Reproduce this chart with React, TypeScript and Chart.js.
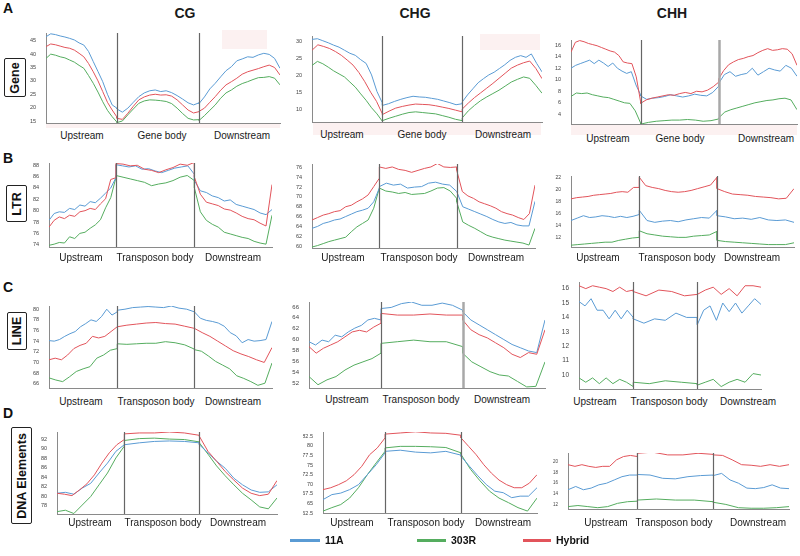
import React, { useEffect, useRef } from "react";
import { Chart, registerables } from "chart.js";
Chart.register(...registerables);

// ---------------- DATA ----------------
// each series: [upstream, body, downstream]
const geneCG_11A = [[46.5, 47.6, 47.3, 46.8, 46.4, 45.9, 45.3, 44.2, 43.4, 41.0, 37.2, 33.5, 29.7, 25.0, 21.0, 19.8], [19.5, 18.3, 19.8, 22.0, 24.1, 25.5, 26.3, 26.6, 26.0, 26.3, 25.6, 24.5, 23.2, 21.8, 21.0, 21.8], [21.5, 24.0, 27.0, 29.1, 31.5, 33.8, 35.3, 37.5, 38.2, 39.0, 38.8, 39.7, 40.3, 39.9, 38.4, 34.7]];
const geneCG_303R = [[38.4, 40.0, 39.6, 39.0, 38.6, 37.8, 37.0, 35.8, 34.7, 32.0, 29.1, 25.8, 22.2, 19.0, 16.6, 14.6], [14.4, 15.0, 17.3, 19.5, 21.6, 22.5, 22.9, 22.8, 22.6, 22.3, 21.5, 19.8, 17.8, 16.0, 15.4, 15.5], [15.2, 17.0, 19.0, 21.0, 23.5, 25.5, 26.6, 28.0, 29.0, 29.7, 30.5, 31.2, 31.3, 31.6, 31.0, 28.5]];
const geneCG_Hybrid = [[42.8, 43.8, 43.5, 43.0, 42.5, 42.2, 41.5, 40.3, 39.0, 36.5, 33.4, 30.0, 26.0, 22.0, 19.1, 16.5], [16.0, 15.6, 17.9, 20.5, 22.9, 24.0, 24.7, 25.0, 24.7, 24.8, 24.3, 22.9, 21.0, 19.1, 18.0, 18.5], [18.6, 19.8, 22.0, 24.1, 26.5, 28.5, 29.7, 31.0, 32.5, 33.4, 34.0, 34.6, 35.3, 35.9, 35.0, 32.2]];

const geneCHG_11A = [[30.6, 30.8, 30.2, 29.6, 28.9, 28.3, 27.4, 26.5, 25.9, 24.6, 23.5, 20.1, 15.2, 11.8], [11.1, 11.6, 12.3, 12.9, 13.4, 13.8, 13.6, 13.5, 13.2, 12.9, 12.4, 11.9, 11.3, 11.6], [12.1, 14.2, 16.0, 17.8, 19.0, 20.1, 20.9, 22.0, 23.1, 24.4, 25.3, 25.8, 25.3, 26.3, 23.5, 21.0]];
const geneCHG_303R = [[22.9, 24.1, 23.4, 22.4, 21.3, 20.4, 19.5, 18.0, 16.5, 14.5, 12.6, 10.4, 8.6, 6.4], [6.6, 7.3, 7.9, 8.5, 9.0, 9.2, 9.0, 8.8, 8.6, 8.1, 7.6, 7.0, 6.6], [7.4, 9.5, 11.1, 12.5, 13.6, 14.6, 15.6, 16.8, 18.0, 18.8, 19.5, 19.1, 17.0, 14.7]];
const geneCHG_Hybrid = [[27.4, 29.0, 28.5, 27.9, 27.0, 25.9, 24.5, 23.0, 20.8, 18.1, 15.0, 12.3, 8.6], [8.4, 9.4, 10.3, 10.8, 11.2, 11.5, 11.4, 11.3, 11.0, 10.6, 10.2, 9.7, 9.2], [10.0, 11.8, 13.4, 14.8, 16.2, 17.6, 19.1, 20.6, 22.1, 23.0, 23.7, 24.2, 22.0, 19.0]];

const geneCHH_11A = [[12.0, 12.5, 12.8, 13.1, 13.4, 12.8, 13.4, 12.9, 12.3, 12.9, 12.0, 11.5, 11.1, 11.4, 9.1, 7.4], [7.2, 6.6, 6.8, 6.9, 7.1, 7.4, 7.2, 7.0, 7.2, 7.5, 7.3, 7.2, 7.8, 8.9], [9.4, 10.9, 11.4, 10.6, 10.9, 11.1, 12.0, 10.8, 11.4, 12.0, 11.7, 11.5, 12.5, 12.0, 10.6]];
const geneCHH_303R = [[7.1, 7.7, 7.6, 7.7, 7.4, 7.2, 7.0, 6.9, 6.6, 6.3, 6.0, 5.9, 4.6, 2.5], [2.3, 2.6, 2.8, 2.9, 3.0, 3.0, 3.1, 3.0, 2.8, 2.9, 3.2], [3.4, 4.4, 4.8, 5.1, 5.4, 5.7, 6.0, 6.2, 6.4, 6.5, 6.7, 6.8, 6.5, 4.8]];
const geneCHH_Hybrid = [[14.8, 16.5, 16.8, 16.6, 16.3, 16.1, 15.9, 15.6, 15.3, 15.0, 14.8, 14.2, 13.1, 12.9, 12.8, 10.5, 6.2], [5.9, 6.5, 6.8, 7.0, 7.2, 7.4, 7.3, 7.6, 7.8, 7.6, 8.0, 7.9, 8.2, 8.8, 9.6], [10.2, 11.6, 12.6, 13.1, 13.5, 13.7, 14.0, 14.2, 14.7, 15.1, 15.4, 15.1, 15.2, 15.4, 15.3, 14.5, 12.5]];

const ltrCG_11A = [[78.3, 79.5, 79.8, 79.7, 80.4, 80.2, 81.0, 80.8, 81.6, 81.4, 82.2, 83.1, 84.0, 85.8], [88.1, 87.9, 87.7, 87.9, 87.3, 87.4, 87.0, 86.7, 87.1, 87.5, 87.7, 87.9, 86.4], [85.3, 83.5, 83.2, 82.6, 82.3, 81.7, 81.9, 81.1, 80.8, 80.5, 80.2, 79.6, 79.3, 80.2]];
const ltrCG_303R = [[73.9, 74.1, 74.4, 74.3, 75.4, 75.1, 76.0, 76.2, 76.9, 77.5, 78.4, 80.5, 82.3, 85.8], [86.2, 85.9, 85.6, 85.3, 85.0, 84.4, 84.7, 84.9, 85.3, 85.9, 86.2, 85.3], [84.0, 79.8, 78.3, 77.6, 77.1, 76.2, 75.9, 75.6, 75.3, 75.1, 74.6, 74.3, 74.1, 79.2]];
const ltrCG_Hybrid = [[77.1, 78.3, 78.9, 78.6, 79.2, 79.0, 79.8, 80.0, 80.4, 80.2, 81.2, 82.1, 85.5, 85.8], [88.3, 88.2, 87.9, 88.0, 87.3, 87.1, 86.7, 87.2, 87.6, 88.2, 88.0, 88.5], [85.9, 82.9, 81.5, 81.2, 80.9, 80.3, 80.1, 79.6, 79.0, 78.6, 78.4, 77.8, 77.3, 84.6]];

const ltrCHG_11A = [[63.6, 64.0, 64.6, 64.9, 65.3, 65.5, 66.0, 66.5, 67.0, 67.3, 67.7, 69.0, 71.8], [72.1, 72.8, 72.4, 72.6, 71.8, 72.0, 72.1, 72.8, 73.0, 72.6, 72.4, 71.1], [71.1, 68.0, 67.5, 67.0, 66.5, 66.0, 65.4, 64.9, 64.6, 64.8, 64.3, 64.1, 64.1, 69.1]];
const ltrCHG_303R = [[59.8, 60.1, 60.5, 60.9, 61.2, 61.5, 61.8, 62.9, 63.9, 64.6, 65.3, 67.7, 71.8], [71.8, 71.2, 71.0, 70.7, 70.9, 70.5, 70.6, 70.7, 71.2, 71.8, 71.9, 71.2, 69.7], [69.0, 64.9, 64.2, 63.6, 62.9, 62.2, 61.8, 61.5, 61.2, 61.0, 60.8, 60.6, 60.2, 63.6]];
const ltrCHG_Hybrid = [[65.3, 65.8, 66.3, 66.6, 67.0, 67.2, 68.0, 68.3, 69.0, 69.6, 70.4, 72.1, 73.8], [76.1, 75.8, 76.1, 75.6, 75.4, 75.0, 75.4, 75.8, 76.1, 76.8, 76.1, 76.0, 76.1], [75.4, 71.1, 70.2, 69.7, 69.0, 68.6, 68.2, 67.7, 67.0, 66.6, 66.3, 65.8, 65.4, 66.6, 72.4]];

const ltrCHH_11A = [[14.8, 15.2, 15.6, 15.3, 15.4, 15.6, 15.5, 15.3, 15.5, 15.3, 15.5, 15.8], [16.5, 14.8, 14.5, 14.7, 14.8, 14.6, 14.9, 15.1, 15.3, 15.2, 16.5], [15.6, 15.4, 15.1, 15.2, 15.0, 15.3, 14.9, 14.8, 14.9, 14.5]];
const ltrCHH_303R = [[10.7, 10.8, 10.9, 11.0, 11.1, 11.2, 11.2, 11.5, 11.7, 11.9, 12.0], [13.1, 12.6, 12.4, 12.2, 12.1, 12.0, 12.0, 12.2, 12.3, 12.4, 13.0], [11.5, 11.3, 11.2, 11.1, 11.0, 10.9, 10.8, 10.8, 10.8, 11.1]];
const ltrCHH_Hybrid = [[18.4, 18.6, 18.7, 18.8, 19.0, 19.1, 19.2, 19.3, 19.5, 19.6, 19.5, 20.3, 20.3], [22.0, 20.6, 20.3, 20.1, 19.8, 19.6, 19.5, 19.6, 19.8, 20.1, 20.4, 20.7, 22.0], [20.1, 19.6, 19.2, 19.1, 19.0, 18.8, 18.7, 18.6, 18.4, 18.5, 20.1]];

const lineCG_11A = [[74.1, 74.0, 74.3, 74.9, 75.4, 75.8, 76.7, 77.3, 78.0, 77.7, 78.6, 80.0, 78.9, 79.5], [79.8, 80.0, 80.3, 80.4, 80.5, 80.4, 80.3, 80.6, 80.2, 80.0, 79.5], [79.5, 78.3, 77.9, 77.7, 77.4, 76.8, 75.6, 75.0, 73.7, 74.3, 74.0, 74.1, 74.3, 77.7]];
const lineCG_303R = [[67.1, 66.7, 66.4, 67.3, 68.3, 68.8, 69.2, 70.8, 71.4, 72.3, 72.6], [73.5, 73.4, 73.5, 73.6, 73.6, 73.9, 73.7, 73.3, 72.5], [72.4, 72.1, 71.2, 70.2, 69.5, 68.8, 67.5, 67.0, 66.4, 65.7, 66.1, 69.9]];
const lineCG_Hybrid = [[70.5, 70.8, 70.5, 71.4, 72.6, 73.2, 73.6, 74.9, 74.6, 74.9, 75.8, 76.7], [76.7, 77.0, 77.2, 77.4, 77.5, 77.3, 77.2, 76.8, 76.4], [76.4, 75.6, 74.9, 74.0, 73.1, 72.2, 71.6, 71.1, 70.5, 70.0, 72.8]];

const lineCHG_11A = [[59.6, 59.0, 59.9, 59.6, 60.8, 60.5, 61.4, 62.1, 62.6, 63.6, 63.9, 63.6], [65.7, 65.9, 66.6, 66.9, 66.3, 66.3, 66.7, 66.3, 65.4], [65.1, 63.6, 62.7, 61.8, 60.9, 60.0, 59.1, 58.5, 57.9, 57.6, 63.6]];
const lineCHG_303R = [[53.2, 51.7, 52.6, 53.2, 54.4, 55.3, 55.9, 56.5, 57.5], [59.3, 59.6, 59.9, 59.6, 59.6, 58.7], [57.5, 55.9, 55.0, 54.1, 53.5, 53.3, 52.3, 51.3, 51.4, 55.9]];
const lineCHG_Hybrid = [[58.7, 57.5, 58.4, 59.0, 59.6, 60.5, 61.4, 61.7, 61.4, 62.3, 63.0], [64.8, 64.5, 64.5, 64.7, 64.5, 64.5], [63.6, 61.8, 60.9, 60.3, 59.4, 58.5, 57.3, 56.7, 57.6, 57.3, 61.8]];

const lineCHH_11A = [[15.1, 14.8, 15.3, 14.5, 14.5, 13.9, 14.5, 13.9, 14.5, 14.0], [13.9, 13.6, 13.9, 13.8, 14.3, 14.0, 14.0], [13.5, 14.5, 14.8, 13.8, 15.0, 14.4, 15.0, 14.3, 14.8, 15.3, 14.9]];
const lineCHH_303R = [[9.8, 9.5, 9.8, 9.4, 9.8, 9.4, 9.7, 9.5, 9.2], [9.5, 9.4, 9.6, 9.5, 9.4], [9.3, 9.5, 9.7, 9.2, 9.5, 9.7, 9.5, 10.1, 10.0]];
const lineCHH_Hybrid = [[16.2, 16.0, 16.2, 16.1, 16.0, 15.8, 16.1, 15.8, 15.9], [15.8, 15.5, 15.9, 15.8, 15.5, 15.6], [15.6, 15.9, 16.1, 15.6, 16.0, 15.5, 16.2, 16.2, 16.1]];

const dnaCG_11A = [[80.6, 80.8, 80.4, 81.7, 82.7, 84.9, 87.0, 89.5, 90.9], [90.9, 91.3, 91.6, 91.7, 91.6, 91.3], [90.9, 89.2, 87.4, 85.9, 83.8, 82.4, 81.3, 80.8, 80.9, 82.4]];
const dnaCG_303R = [[76.7, 77.0, 76.3, 78.1, 79.9, 82.4, 84.9, 88.1, 90.6], [91.8, 92.2, 92.3, 92.1, 92.0, 91.5], [91.3, 88.9, 86.4, 84.3, 82.4, 80.6, 79.2, 77.7, 77.3, 79.6]];
const dnaCG_Hybrid = [[80.6, 80.4, 80.1, 81.3, 82.6, 84.5, 87.0, 89.2, 90.9, 92.0], [93.2, 93.4, 93.4, 93.6, 93.4, 92.9], [92.7, 89.5, 87.4, 85.2, 83.4, 81.7, 80.6, 80.1, 80.4, 83.3]];

const dnaCHG_11A = [[66.0, 67.3, 67.7, 68.6, 69.9, 72.5, 75.1, 78.2], [78.6, 78.9, 78.4, 78.2, 78.6, 77.6], [77.3, 74.7, 72.2, 69.9, 68.2, 67.8, 66.5, 66.9, 66.9, 69.1]];
const dnaCHG_303R = [[63.0, 63.9, 64.7, 66.4, 69.1, 72.5, 75.6, 78.6], [79.5, 79.9, 79.9, 79.8, 79.6, 78.2], [77.8, 73.9, 70.9, 68.2, 66.4, 65.2, 63.9, 63.0, 66.4]];
const dnaCHG_Hybrid = [[68.6, 69.1, 69.9, 70.9, 72.5, 74.7, 77.7, 79.5, 82.1], [83.1, 83.4, 83.7, 83.4, 83.3, 82.8], [82.1, 79.9, 77.7, 75.1, 72.9, 71.1, 69.9, 69.1, 69.1, 70.3, 72.5]];

const dnaCHH_11A = [[14.8, 15.4, 14.8, 15.1, 15.7, 16.0, 16.6, 17.2, 17.5, 17.5], [17.6, 17.5, 16.9, 16.8, 17.2, 17.4, 17.5], [17.4, 17.8, 16.6, 16.0, 15.1, 15.0, 15.2, 15.7, 15.1, 15.0]];
const dnaCHH_303R = [[11.7, 11.9, 11.7, 11.5, 11.7, 12.3, 12.6, 12.7], [12.9, 13.1, 12.9, 12.9, 12.6], [12.5, 12.1, 11.5, 11.4, 11.4, 11.5, 11.7]];
const dnaCHH_Hybrid = [[19.4, 19.1, 19.4, 19.1, 18.9, 19.1, 19.1, 20.3, 20.9, 21.1, 20.9], [21.5, 21.7, 21.2, 21.2, 21.5, 21.3], [21.2, 21.1, 20.3, 19.4, 19.3, 19.1, 19.4, 19.1, 19.4]];

const ticksGeneCG = [15, 20, 25, 30, 35, 40, 45];
const ticksGeneCHG = [10, 15, 20, 25, 30];
const ticksGeneCHH = [4, 6, 8, 10, 12, 14, 16];
const ticksLtrCG = [74, 76, 78, 80, 82, 84, 86, 88];
const ticksLtrCHG = [60, 62, 64, 66, 68, 70, 72, 74, 76];
const ticksLtrCHH = [12, 14, 16, 18, 20, 22];
const ticksLineCG = [66, 68, 70, 72, 74, 76, 78, 80];
const ticksLineCHG = [52, 54, 56, 58, 60, 62, 64, 66];
const ticksLineCHH = [10, 11, 12, 13, 14, 15, 16];
const ticksDnaCG = [78, 80, 82, 84, 86, 88, 90, 92];
const ticksDnaCHG = [62.5, 65, 67.5, 70, 72.5, 75, 77.5, 80, 82.5];
const ticksDnaCHH = [12, 14, 16, 18, 20];

const contexts = ["CG", "CHG", "CHH"];
const rowLetters = ["A", "B", "C", "D"];
const rowNames = ["Gene", "LTR", "LINE", "DNA Elements"];
const legendNames = ["11A", "303R", "Hybrid"];

// ---------------- STYLE ----------------
const COL_11A = "#5a9bd4";
const COL_303R = "#55ad5f";
const COL_HYB = "#e2545b";
const FONT = "'Liberation Sans', Arial, Helvetica, sans-serif";

type Panel = {
  left: number; top: number; right: number; bottom: number;
  yMin: number; yMax: number; ticks: number[]; b1: number; b2: number;
  s11A: number[][]; s303R: number[][]; sHyb: number[][]; tf: number;
  labels: [number, number, number]; labelY: number; bodyName: string; softRight?: boolean;
};

const panels: Panel[] = [
  { left: 46, top: 33, right: 280, bottom: 123, yMin: 14.25, yMax: 47.9, ticks: ticksGeneCG, b1: 30.3, b2: 65.4, s11A: geneCG_11A, s303R: geneCG_303R, sHyb: geneCG_Hybrid, tf: 5.5, labels: [82, 162, 242], labelY: 136, bodyName: "Gene body" },
  { left: 312, top: 36, right: 542, bottom: 122, yMin: 6.2, yMax: 31.6, ticks: ticksGeneCHG, b1: 30.6, b2: 65.3, s11A: geneCHG_11A, s303R: geneCHG_303R, sHyb: geneCHG_Hybrid, tf: 5.5, labels: [342, 422, 503], labelY: 135, bodyName: "Gene body" },
  { left: 571, top: 40, right: 797, bottom: 124, yMin: 2.32, yMax: 16.9, ticks: ticksGeneCHH, b1: 30.8, b2: 65.4, s11A: geneCHH_11A, s303R: geneCHH_303R, sHyb: geneCHH_Hybrid, tf: 5.5, labels: [608, 680, 766], labelY: 139, bodyName: "Gene body", softRight: true },
  { left: 49, top: 163, right: 272, bottom: 247, yMin: 73.6, yMax: 88.4, ticks: ticksLtrCG, b1: 30.0, b2: 65.2, s11A: ltrCG_11A, s303R: ltrCG_303R, sHyb: ltrCG_Hybrid, tf: 5.5, labels: [81, 155, 233], labelY: 258, bodyName: "Transposon body" },
  { left: 312, top: 164, right: 535, bottom: 248, yMin: 59.6, yMax: 76.7, ticks: ticksLtrCHG, b1: 30.2, b2: 64.9, s11A: ltrCHG_11A, s303R: ltrCHG_303R, sHyb: ltrCHG_Hybrid, tf: 5.5, labels: [343, 419, 496], labelY: 258, bodyName: "Transposon body" },
  { left: 571, top: 176, right: 794, bottom: 247, yMin: 10.4, yMax: 22.2, ticks: ticksLtrCHH, b1: 30.6, b2: 65.5, s11A: ltrCHH_11A, s303R: ltrCHH_303R, sHyb: ltrCHH_Hybrid, tf: 5, labels: [598, 677, 752], labelY: 258, bodyName: "Transposon body" },
  { left: 49, top: 306, right: 272, bottom: 388, yMin: 65.2, yMax: 80.6, ticks: ticksLineCG, b1: 30.6, b2: 65.2, s11A: lineCG_11A, s303R: lineCG_303R, sHyb: lineCG_Hybrid, tf: 5.5, labels: [81, 156, 233], labelY: 401.5, bodyName: "Transposon body" },
  { left: 309, top: 302, right: 545, bottom: 388, yMin: 51.1, yMax: 66.9, ticks: ticksLineCHG, b1: 30.5, b2: 65.1, s11A: lineCHG_11A, s303R: lineCHG_303R, sHyb: lineCHG_Hybrid, tf: 6, labels: [347, 421, 502], labelY: 400, bodyName: "Transposon body", softRight: true },
  { left: 579, top: 282, right: 761, bottom: 389, yMin: 9.03, yMax: 16.46, ticks: ticksLineCHH, b1: 29.8, b2: 65.0, s11A: lineCHH_11A, s303R: lineCHH_303R, sHyb: lineCHH_Hybrid, tf: 6.5, labels: [595, 669, 748], labelY: 401.5, bodyName: "Transposon body" },
  { left: 57, top: 432, right: 277, bottom: 514, yMin: 76.2, yMax: 93.6, ticks: ticksDnaCG, b1: 30.6, b2: 64.7, s11A: dnaCG_11A, s303R: dnaCG_303R, sHyb: dnaCG_Hybrid, tf: 5.5, labels: [90, 163, 238], labelY: 522.5, bodyName: "Transposon body" },
  { left: 323, top: 432, right: 537, bottom: 513, yMin: 62.5, yMax: 83.65, ticks: ticksDnaCHG, b1: 29.0, b2: 64.5, s11A: dnaCHG_11A, s303R: dnaCHG_303R, sHyb: dnaCHG_Hybrid, tf: 5.5, labels: [352, 426, 503], labelY: 522.5, bodyName: "Transposon body" },
  { left: 568, top: 453, right: 789, bottom: 509, yMin: 11.26, yMax: 21.55, ticks: ticksDnaCHH, b1: 31.4, b2: 65.7, s11A: dnaCHH_11A, s303R: dnaCHH_303R, sHyb: dnaCHH_Hybrid, tf: 4.5, labels: [606, 674, 758], labelY: 522.5, bodyName: "Transposon body" },
];

function toPoints(regions: number[][], b1: number, b2: number) {
  const edges = [0, b1, b2, 100];
  const pts: { x: number; y: number }[] = [];
  regions.forEach((vals, r) => {
    vals.forEach((v, i) => {
      pts.push({ x: edges[r] + ((edges[r + 1] - edges[r]) * i) / (vals.length - 1), y: v });
    });
  });
  return pts;
}

const boundaryPlugin = {
  id: "regionBounds",
  afterDatasetsDraw(chart: any, _args: any, opts: any) {
    const { ctx, chartArea, scales } = chart;
    const x = scales.x;
    ctx.save();
    (opts.at as number[]).forEach((b, i) => {
      const soft = i === 1 && opts.softRight;
      ctx.strokeStyle = soft ? "#a8a8a8" : "#666";
      ctx.lineWidth = soft ? 2.5 : 1.2;
      const px = Math.round(x.getPixelForValue(b)) + 0.5;
      ctx.beginPath();
      ctx.moveTo(px, chartArea.top);
      ctx.lineTo(px, chartArea.bottom);
      ctx.stroke();
    });
    ctx.restore();
  },
};

const YW = 20, PT = 6, PB = 6, PR = 3;

function PanelChart({ p }: { p: Panel }) {
  const ref = useRef<HTMLCanvasElement>(null);
  const w = p.right - p.left + YW + PR;
  const h = p.bottom - p.top + PT + PB;
  useEffect(() => {
    const mk = (label: string, data: number[][], color: string) => ({
      label,
      data: toPoints(data, p.b1, p.b2),
      borderColor: color,
      borderWidth: 1,
      pointRadius: 0,
      tension: 0,
      fill: false,
    });
    const chart = new Chart(ref.current!, {
      type: "line",
      data: {
        datasets: [mk("Hybrid", p.sHyb, COL_HYB), mk("11A", p.s11A, COL_11A), mk("303R", p.s303R, COL_303R)],
      },
      plugins: [boundaryPlugin],
      options: {
        animation: false,
        responsive: false,
        devicePixelRatio: 1,
        layout: { padding: { left: 0, right: PR, top: PT, bottom: PB } },
        plugins: {
          legend: { display: false },
          tooltip: { enabled: false },
          regionBounds: { at: [p.b1, p.b2], softRight: !!p.softRight },
        } as any,
        scales: {
          x: {
            type: "linear",
            min: 0,
            max: 100,
            ticks: { display: false },
            grid: { display: false },
            border: { display: true, color: "#8a8a8a", width: 1 },
            afterFit: (s: any) => { s.height = 0; },
          },
          y: {
            type: "linear",
            min: p.yMin,
            max: p.yMax,
            afterBuildTicks: (s: any) => { s.ticks = p.ticks.map((v) => ({ value: v })); },
            afterFit: (s: any) => { s.width = YW; },
            ticks: {
              padding: 2,
              color: "#444",
              font: { size: p.tf, family: FONT },
              callback: (v: any) => String(v),
            },
            grid: { display: false },
            border: { display: true, color: "#8a8a8a", width: 1 },
          },
        },
      } as any,
    });
    return () => chart.destroy();
  }, []);
  return (
    <canvas
      ref={ref}
      width={w}
      height={h}
      style={{ position: "absolute", left: p.left - YW, top: p.top - PT, width: w, height: h }}
    />
  );
}

function Txt({ x, y, children, size = 10, bold = false }: any) {
  return (
    <div
      style={{
        position: "absolute", left: x, top: y, transform: "translate(-50%, -50%)",
        whiteSpace: "nowrap", fontFamily: FONT, fontSize: size, fontWeight: bold ? 700 : 400,
        lineHeight: 1, color: "#1a1a1a",
      }}
    >
      {children}
    </div>
  );
}

function RowBox({ left, top, w, h, text }: any) {
  return (
    <div
      style={{
        position: "absolute", left, top, width: w, height: h, border: "1.5px solid #222",
        borderRadius: 2, boxSizing: "border-box", display: "flex", alignItems: "center", justifyContent: "center",
        background: "#fff",
      }}
    >
      <span style={{ transform: "rotate(-90deg)", whiteSpace: "nowrap", fontFamily: FONT, fontWeight: 700, fontSize: 12.5, color: "#111" }}>
        {text}
      </span>
    </div>
  );
}

const pink = "rgba(240, 190, 190, 0.22)";

export default function App() {
  const titleX = [185, 415, 672];
  const letterY = [8, 158, 287, 413];
  const boxes = [
    { left: 4, top: 58, w: 22, h: 39 },
    { left: 6, top: 185, w: 21, h: 37 },
    { left: 7, top: 312, w: 20, h: 38 },
    { left: 11, top: 427, w: 21, h: 97 },
  ];
  const legend = [
    { x1: 290, x2: 320, tx: 325, c: COL_11A },
    { x1: 417, x2: 446, tx: 451, c: COL_303R },
    { x1: 523, x2: 551, tx: 556, c: COL_HYB },
  ];
  return (
    <div style={{ position: "absolute", left: 0, top: 0, width: 800, height: 556, background: "#fff", overflow: "hidden" }}>
      {/* faint pink artefacts */}
      <div style={{ position: "absolute", left: 46, top: 123, width: 234, height: 5, background: pink }} />
      <div style={{ position: "absolute", left: 222, top: 30, width: 45, height: 19, background: pink }} />
      <div style={{ position: "absolute", left: 313, top: 123, width: 228, height: 12, background: pink }} />
      <div style={{ position: "absolute", left: 480, top: 34, width: 60, height: 16, background: pink }} />
      <div style={{ position: "absolute", left: 571, top: 125, width: 226, height: 10, background: pink }} />

      {contexts.map((c, i) => (
        <Txt key={c} x={titleX[i]} y={13} size={14} bold>{c}</Txt>
      ))}
      {rowLetters.map((l, i) => (
        <div key={l} style={{ position: "absolute", left: 3, top: letterY[i] - 7, fontFamily: FONT, fontWeight: 700, fontSize: 14, lineHeight: "14px", color: "#111" }}>{l}</div>
      ))}
      {rowNames.map((n, i) => (
        <RowBox key={n} {...boxes[i]} text={n} />
      ))}
      {panels.map((p, i) => (
        <PanelChart key={i} p={p} />
      ))}
      {panels.map((p, i) => (
        <React.Fragment key={"l" + i}>
          <Txt x={p.labels[0]} y={p.labelY}>Upstream</Txt>
          <Txt x={p.labels[1]} y={p.labelY}>{p.bodyName}</Txt>
          <Txt x={p.labels[2]} y={p.labelY}>Downstream</Txt>
        </React.Fragment>
      ))}
      {legend.map((l, i) => (
        <React.Fragment key={"g" + i}>
          <div style={{ position: "absolute", left: l.x1, top: 539, width: l.x2 - l.x1, height: 3, background: l.c }} />
          <div style={{ position: "absolute", left: l.tx, top: 535, fontFamily: FONT, fontWeight: 700, fontSize: 10.5, lineHeight: "11px", color: "#111" }}>{legendNames[i]}</div>
        </React.Fragment>
      ))}
    </div>
  );
}
